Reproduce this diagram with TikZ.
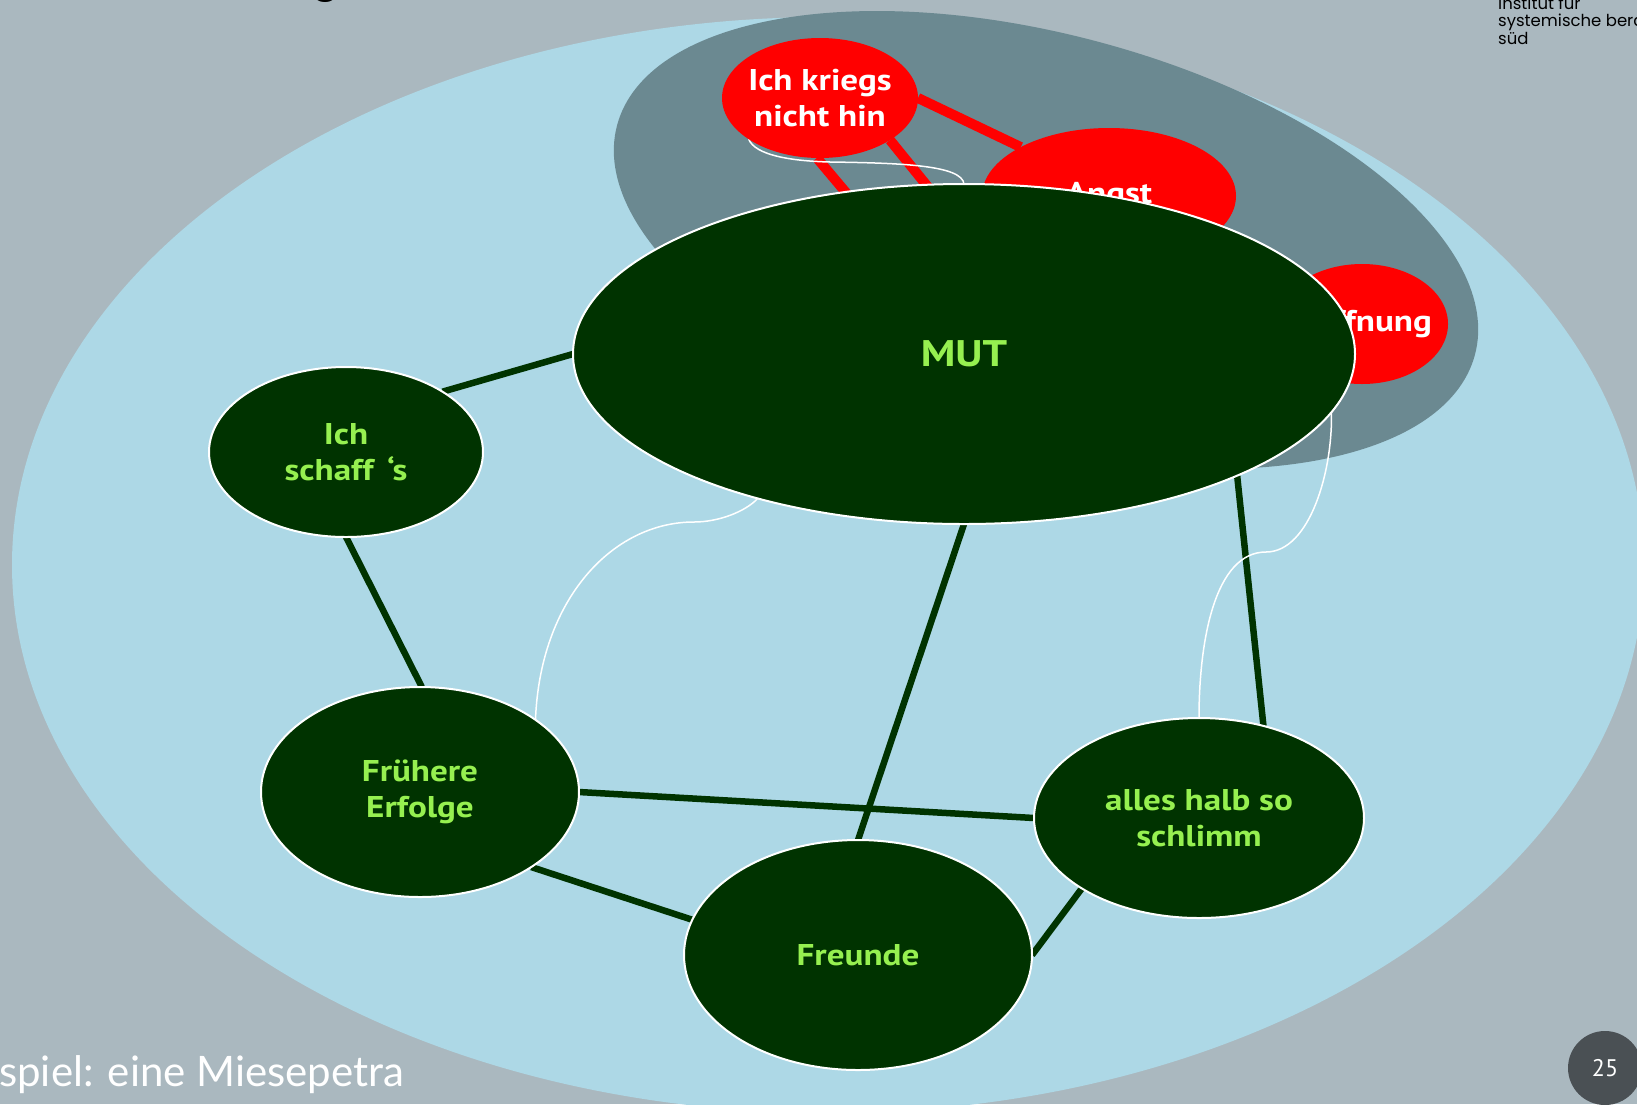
\documentclass[tikz,border=0pt]{standalone}
\usepackage{fontspec}
\setmainfont{PT Sans}
\newfontfamily\labelfont[FakeStretch=1.17]{PT Sans}
\newfontfamily\slidefont{Lato}
\newfontfamily\logofont{Poppins}
\usetikzlibrary{shapes.geometric}

\definecolor{pagebg}{RGB}{170,184,191}
\definecolor{paleblue}{RGB}{173,216,230}
\definecolor{slate}{RGB}{107,137,145}
\definecolor{dkgreen}{RGB}{0,51,0}
\definecolor{lime}{RGB}{150,240,80}
\definecolor{badgegray}{RGB}{74,80,84}

\pgfdeclarelayer{back}
\pgfdeclarelayer{edges}
\pgfsetlayers{back,edges,main}

\begin{document}
\begin{tikzpicture}[x=1pt,y=-1pt,
  bubble/.style={ellipse, inner sep=0pt, outer sep=0pt, align=center,
    font=\labelfont\bfseries\fontsize{30}{36}\selectfont},
  good/.style={bubble, fill=dkgreen, draw=white, line width=2pt, text=lime},
  bad/.style={bubble, fill=red, text=white, inner xsep=-20pt},
  glink/.style={draw=dkgreen, line width=6.5pt},
  rlink/.style={draw=red, line width=10pt},
  wlink/.style={draw=white, line width=1.5pt},
  logo/.style={anchor=base west, inner sep=0pt, text=black,
    font=\logofont\fontsize{16.5}{16.5}\selectfont},
]
\useasboundingbox (0,0) rectangle (1637,1104);
\clip (0,0) rectangle (1637,1104);

% backdrop: slide, pale field, shaded region of the negative thoughts
\begin{pgfonlayer}{back}
  \fill[pagebg] (0,0) rectangle (1637,1104);
  \fill[paleblue] (828,565) ellipse [x radius=816, y radius=548];
  \fill[slate, rotate around={-15:(1046,240)}] (1046,240) ellipse [x radius=444, y radius=205];
\end{pgfonlayer}

% negative thoughts
\node[bad, minimum width=196pt, minimum height=120pt] (kriegs) at (820,98) {Ich kriegs\\nicht hin};
\node[bad, minimum width=254pt, minimum height=136pt] (angst) at (1109,196) {Angst};
\node[bad, minimum width=172pt, minimum height=120pt] (hoff) at (1362,324) {Hoffnung};

% resources
\node[good, minimum width=782pt, minimum height=340pt,
      font=\labelfont\bfseries\fontsize{37}{40}\selectfont] (mut) at (964,354) {MUT};
\node[good, minimum width=274pt, minimum height=170pt] (schaff) at (346,452) {Ich\\schaff\hspace{0.45em}‘s};
\node[good, minimum width=318pt, minimum height=210pt] (frueher) at (420,792) {Frühere\\Erfolge};
\node[good, minimum width=348pt, minimum height=230pt] (freunde) at (858,955) {Freunde};
\node[good, minimum width=330pt, minimum height=200pt] (halb) at (1199,818) {alles halb so\\schlimm};

\begin{pgfonlayer}{edges}
  \coordinate (hidA) at (975,245);
  \coordinate (hidB) at (880,233);
  \draw[rlink] (kriegs.0) -- (angst.151);
  \draw[rlink] (kriegs.-31) -- (hidA);
  \draw[rlink] (kriegs.267) -- (hidB);

  \draw[glink] (mut.180) -- (schaff.32);
  \draw[glink] (schaff.270) -- (frueher.89);
  \draw[glink] (mut.270) -- (freunde.90);
  \draw[glink] (mut.-24) -- (halb.55);
  \draw[glink] (frueher.0) -- (halb.180);
  \draw[glink] (frueher.-34) -- (freunde.168);
  \draw[glink] (freunde.0) -- (halb.211);

  \draw[wlink] (kriegs.210) .. controls (755,155) and (790,161) .. (830,162)
               .. controls (900,163) and (962,165) .. (mut.90);
  \draw[wlink] (mut.215) .. controls (745,512) and (718,522) .. (694,522)
               .. controls (612,522) and (540,600) .. (frueher.32);
  \draw[wlink] (mut.-9) .. controls (1333,470) and (1310,552) .. (1266,552)
               .. controls (1215,552) and (1199,640) .. (halb.90);
\end{pgfonlayer}

% slide furniture
\node[anchor=base, inner sep=0pt, text=black,
      font=\slidefont\fontsize{44}{44}\selectfont] (titletail) at (326,-6) {g};
\node[logo] (logoA) at (1498,9) {institut für};
\node[logo] (logoB) at (1498,26.5) {systemische bera};
\node[logo] (logoC) at (1498,44) {süd};
\node[anchor=base west, inner sep=0pt, text=white, font=\slidefont\fontsize{42}{42}\selectfont]
  (caption) at (-1,1086) {spiel: eine Miesepetra};
\node[circle, fill=badgegray, minimum size=74pt, inner sep=0pt, text=white,
      font=\fontsize{24}{24}\selectfont] (pagenum) at (1605,1068) {25};
\end{tikzpicture}
\end{document}
